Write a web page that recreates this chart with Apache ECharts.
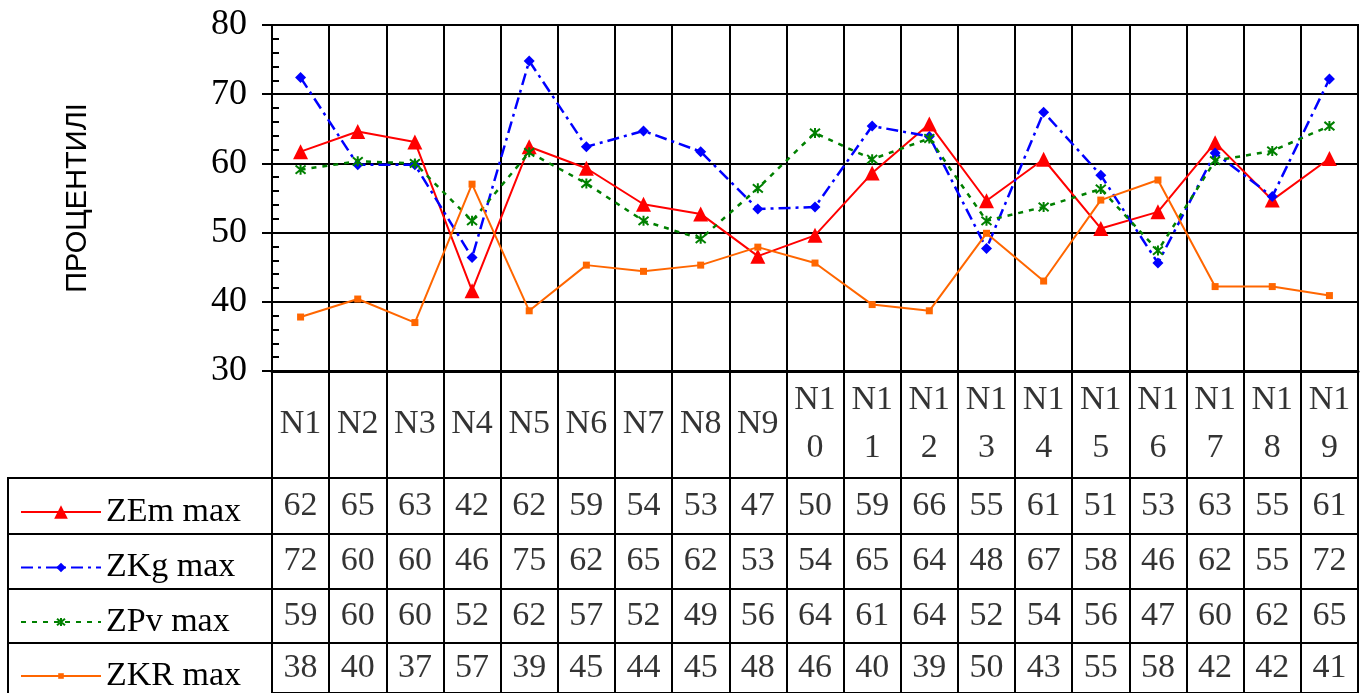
<!DOCTYPE html>
<html>
<head>
<meta charset="utf-8">
<script src="https://cdn.jsdelivr.net/npm/echarts@6/dist/echarts.min.js"></script>
<style>
  html, body { margin: 0; padding: 0; background: #fff; }
  #chart { width: 1368px; height: 693px; }
</style>
</head>
<body>
<div id="chart"></div>
<script>
// categories
var categories = ['N1','N2','N3','N4','N5','N6','N7','N8','N9','N10',
  'N11','N12','N13','N14','N15','N16','N17','N18','N19']
var yTicks = [30, 40, 50, 60, 70, 80]

// series values
var zemMax = [61.7, 64.6, 63.1, 41.6, 62.4, 59.3, 54.1, 52.7, 46.6, 49.6,
  58.6, 65.7, 54.6, 60.6, 50.6, 53.0, 63.0, 54.7, 60.7]
var zkgMax = [72.4, 59.8, 59.8, 46.4, 74.8, 62.4, 64.7, 61.7, 53.4, 53.7,
  65.4, 63.9, 47.7, 67.4, 58.3, 45.6, 61.5, 55.2, 72.2]
var zpvMax = [59.1, 60.3, 60.0, 51.7, 61.6, 57.1, 51.7, 49.1, 56.4, 64.4,
  60.6, 63.6, 51.7, 53.7, 56.3, 47.4, 60.4, 61.8, 65.4]
var zkrMax = [37.8, 40.4, 37.0, 57.0, 38.7, 45.3, 44.4, 45.3, 47.9, 45.6,
  39.6, 38.7, 49.9, 43.0, 54.7, 57.6, 42.2, 42.2, 40.9]

var seriesNames = ['ZEm max', 'ZKg max', 'ZPv max', 'ZKR max']
var seriesData = [zemMax, zkgMax, zpvMax, zkrMax]

var serif = '"Liberation Serif", "Times New Roman", serif'
var L = 272, W = 1086

// table rows: top, height
var headRow = { top: 371, height: 107 }
var rows = [
  { top: 478, height: 56 },
  { top: 534, height: 55 },
  { top: 589, height: 54 },
  { top: 643, height: 54 }
]

var styles = [
  { color: '#ff0000', type: 'solid', width: 2, symbol: 'triangle', size: 15, legendSize: 17 },
  { color: '#0000ff', type: [12, 5, 3, 5], width: 2.5, symbol: 'diamond', size: 11, legendSize: 12 },
  { color: '#008000', type: [5, 6], width: 2.5, symbol: 'path://M0,0L10,10M10,0L0,10M5,-1L5,11', size: 10, legendSize: 10 },
  { color: '#ff6600', type: 'solid', width: 2, symbol: 'rect', size: 7, legendSize: 7 }
]

function wrapName(name) {
  return name.length > 2 ? name.slice(0, 2) + '\n' + name.slice(2) : name
}

var grids = [{ left: L, top: 25, width: W, height: 346, show: true, borderColor: '#000', borderWidth: 2 }]
var xAxes = [{
  type: 'category', gridIndex: 0, data: categories, boundaryGap: true,
  axisLine: { lineStyle: { color: '#000', width: 3 } },
  axisTick: { show: false }, axisLabel: { show: false },
  splitLine: { show: true, interval: 0, lineStyle: { color: '#000', width: 2 } }
}]
var yAxes = [{
  type: 'value', gridIndex: 0, min: 30, max: 80, interval: 10,
  name: 'ПРОЦЕНТИЛІ', nameLocation: 'middle', nameRotate: 90, nameGap: 180,
  nameTextStyle: { fontFamily: '"Liberation Sans", Arial, sans-serif', fontSize: 29, color: '#000' },
  axisLine: { show: true, lineStyle: { color: '#000', width: 2 } },
  axisTick: { show: true, length: 10, lineStyle: { color: '#000', width: 2 } },
  axisLabel: { fontFamily: serif, fontSize: 36, color: '#000', margin: 25,
    formatter: function (v) { return yTicks.indexOf(v) >= 0 ? String(v) : '' } },
  splitLine: { show: true, lineStyle: { color: '#000', width: 2 } }
}, {
  type: 'value', gridIndex: 0, min: 30, max: 80, interval: 2, position: 'left',
  axisLine: { show: false }, axisLabel: { show: false }, splitLine: { show: false },
  axisTick: { show: true, inside: true, length: 7, lineStyle: { color: '#000', width: 2 } }
}]

var series = []
seriesNames.forEach(function (name, i) {
  var s = styles[i]
  series.push({
    name: name, type: 'line', xAxisIndex: 0, yAxisIndex: 0,
    data: seriesData[i],
    symbol: s.symbol, symbolSize: s.size,
    lineStyle: { color: s.color, type: s.type, width: s.width },
    itemStyle: { color: s.color, borderColor: s.color, borderWidth: i === 2 ? 2 : 0 }
  })
})

// header row with category names
grids.push({ left: L, top: headRow.top, width: W, height: headRow.height, show: true, borderColor: '#000', borderWidth: 2 })
var tableRows = [headRow].concat(rows)
for (var r = 0; r < tableRows.length; r++) {
  var gi = r + 1
  if (r > 0) {
    grids.push({ left: L, top: tableRows[r].top, width: W, height: tableRows[r].height, show: true, borderColor: '#000', borderWidth: 2 })
  }
  xAxes.push({
    type: 'category', gridIndex: gi, data: categories, boundaryGap: true,
    axisLine: { show: false }, axisTick: { show: false }, axisLabel: { show: false },
    splitLine: { show: true, interval: 0, lineStyle: { color: '#000', width: 2 } }
  })
  yAxes.push({ type: 'value', gridIndex: gi, min: 0, max: 1, show: false })
  var cells
  if (r === 0) {
    cells = categories.map(function (c) { return { value: [c, 0.5], label: { formatter: wrapName(c) } } })
  } else {
    var vals = seriesData[r - 1]
    cells = categories.map(function (c, k) { return { value: [c, 0.5], label: { formatter: String(Math.round(vals[k])) } } })
  }
  series.push({
    name: 'table' + r, type: 'scatter', xAxisIndex: gi, yAxisIndex: gi + 1,
    symbolSize: 1, itemStyle: { color: 'transparent' }, silent: true,
    label: { show: true, position: 'inside', fontFamily: serif, fontSize: 34, color: '#000', lineHeight: 48 },
    data: cells
  })
}

// one legend per table row
var legends = rows.map(function (row, i) {
  return {
    data: [seriesNames[i]], left: 15, top: row.top + row.height / 2 - 16,
    itemWidth: 80, itemHeight: styles[i].legendSize, itemGap: 0, selectedMode: false,
    textStyle: { fontFamily: serif, fontSize: 34, color: '#000' }
  }
})

// borders of the legend column
var legendCells = rows.map(function (row) {
  return { type: 'rect', shape: { x: 8, y: row.top, width: L - 8, height: row.height },
    style: { fill: null, stroke: '#000', lineWidth: 2 } }
})

var myChart = echarts.init(document.getElementById('chart'))
myChart.setOption({
  animation: false,
  backgroundColor: '#fff',
  grid: grids,
  xAxis: xAxes,
  yAxis: yAxes,
  legend: legends,
  graphic: legendCells,
  series: series
})
</script>
</body>
</html>
